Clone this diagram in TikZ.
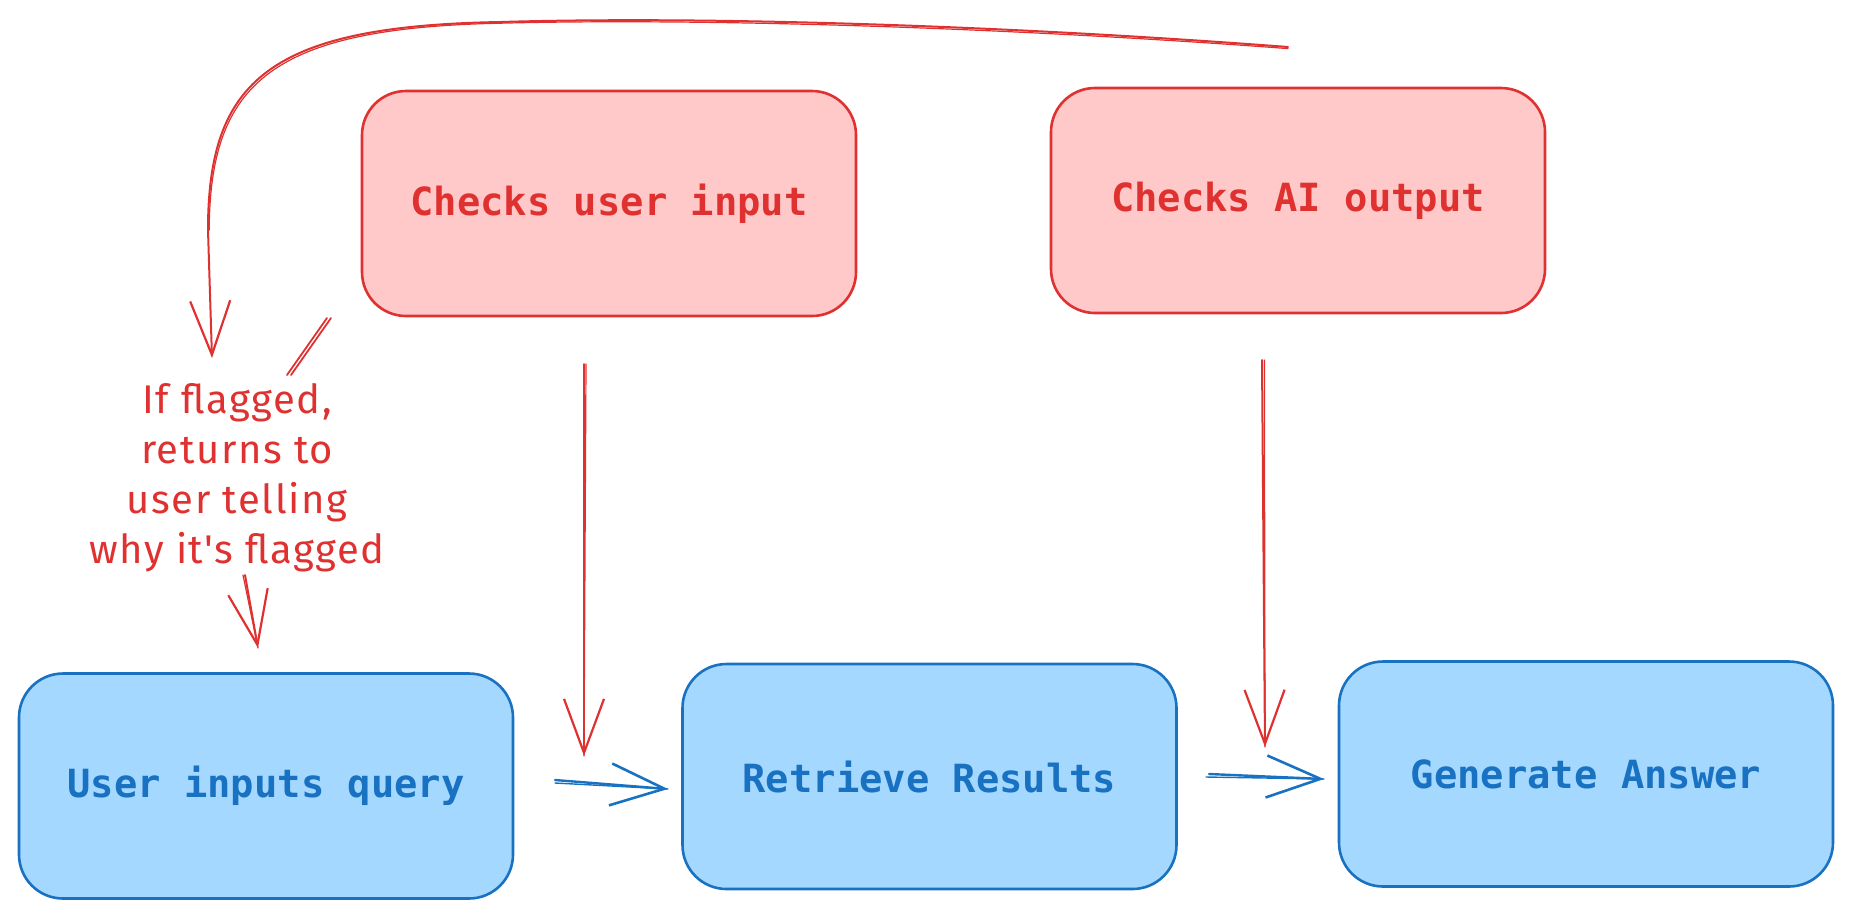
\documentclass[tikz,border=0pt]{standalone}
\usepackage{fontspec}
\setmonofont{DejaVu Sans Mono}
\newfontfamily\handfont[LetterSpace=4]{Fira Sans}
\usetikzlibrary{arrows.meta}
\definecolor{redstroke}{HTML}{E03131}
\definecolor{redfill}{HTML}{FFC9C9}
\definecolor{bluestroke}{HTML}{1971C2}
\definecolor{bluefill}{HTML}{A5D8FF}
\begin{document}
\begin{tikzpicture}[x=0.5pt,y=-0.5pt,
  boxbase/.style={line width=1.3pt, rounded corners=22pt, minimum width=247pt,
    minimum height=112.5pt, inner sep=0pt,
    font=\ttfamily\bfseries\fontsize{19.4}{23}\selectfont},
  redbox/.style={boxbase, draw=redstroke, fill=redfill, text=redstroke},
  bluebox/.style={boxbase, draw=bluestroke, fill=bluefill, text=bluestroke},
  redarrow/.style={draw=redstroke, line width=1pt, line cap=round,
    -{Straight Barb[length=27pt,width=20pt,line width=1.1pt]}},
  bluearrow/.style={draw=bluestroke, line width=1.2pt, line cap=round,
    -{Straight Barb[length=27pt,width=21pt,line width=1.3pt]}},
  redtrace/.style={draw=redstroke, line width=0.6pt, line cap=round},
  bluetrace/.style={draw=bluestroke, line width=0.7pt, line cap=round},
  handnote/.style={text=redstroke, align=center,
    font=\handfont\fontsize{20}{25}\selectfont}
]
\useasboundingbox (0,0) rectangle (1853,918);

% boxes
\node[redbox] (cui) at (609,203.5) {Checks user input};
\node[redbox] (cao) at (1298,200.5) {Checks AI output};
\node[bluebox] (uiq) at (266,786) {User inputs query};
\node[bluebox] (rr) at (929.5,776.5) {Retrieve Results};
\node[bluebox] (ga) at (1586,774) {Generate Answer};

% note
\node[handnote] (note) at (237,478) {If flagged,\\returns to\\user telling\\why it's flagged};

% coordinates for free ends
\coordinate (fbs) at (1288,47);
\coordinate (fbm) at (500,22);
\coordinate (fbn) at (208,230);
\coordinate (fbe) at (212,358);
\coordinate (ns) at (245,575);
\coordinate (ne) at (258,648);
\coordinate (c1s) at (584,364);
\coordinate (c1e) at (584,756);
\coordinate (c2s) at (1262,360);
\coordinate (c2e) at (1265,747);
\coordinate (b1s) at (555,780);
\coordinate (b1e) at (668,789);
\coordinate (b2s) at (1209,774);
\coordinate (b2e) at (1324,779);
\coordinate (sl1s) at (327,318);
\coordinate (sl1e) at (287,375);

% feedback curve
\draw[redarrow] (fbs) .. controls (1000,25) and (700,16) .. (fbm)
  .. controls (270,26) and (208,80) .. (fbn) -- (fbe);
\draw[redtrace] ([yshift=-0.8pt]fbs) .. controls (1000,27) and (700,18) .. ([yshift=-0.6pt]fbm)
  .. controls (272,28) and (210,82) .. ([xshift=0.6pt]fbn);
% stray double stroke
\draw[redstroke, line width=0.9pt, line cap=round] (sl1s) -- (sl1e);
\draw[redstroke, line width=0.9pt, line cap=round] ([xshift=2pt]sl1s) -- ([xshift=2pt]sl1e);

\draw[redarrow] (ns) -- (ne);
\draw[redtrace] ([xshift=-1pt]ns) -- (ne);
\draw[redarrow] (c1s) -- (c1e);
\draw[redtrace] ([xshift=1pt]c1s) -- (c1e);
\draw[redarrow] (c2s) -- (c2e);
\draw[redtrace] ([xshift=1.2pt]c2s) -- (c2e);

\draw[bluearrow] (b1s) -- (b1e);
\draw[bluetrace] ([yshift=-1.5pt]b1s) -- (b1e);
\draw[bluearrow] (b2s) -- (b2e);
\draw[bluetrace] ([xshift=-1.5pt,yshift=-1.5pt]b2s) -- (b2e);
\end{tikzpicture}
\end{document}
